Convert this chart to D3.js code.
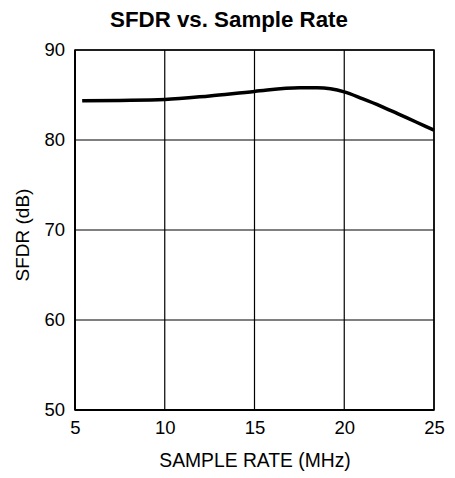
<!DOCTYPE html>
<html><head><meta charset="utf-8">
<script src="https://cdn.jsdelivr.net/npm/d3@7"></script>
<style>body{margin:0;background:#fff}svg{display:block}text{font-family:"Liberation Sans",Arial,sans-serif;fill:#000}</style>
</head><body><svg id="c" width="455" height="478"></svg>
<script>
const sampleRate = [5.4, 7.5, 10, 12.5, 15, 17.5, 18.5, 20, 21, 22, 23, 24, 25];
const sfdr = [84.35, 84.4, 84.5, 84.9, 85.4, 85.8, 85.8, 85.35, 84.6, 83.8, 82.9, 82.0, 81.1];
const xTicks = [5, 10, 15, 20, 25];
const yTicks = [50, 60, 70, 80, 90];
const title = "SFDR vs. Sample Rate";
const xTitle = "SAMPLE RATE (MHz)";
const yTitle = "SFDR (dB)";

const svg = d3.select("#c");
const L = 75, R = 434, T = 50, B = 410;
const x = d3.scaleLinear().domain([5, 25]).range([L, R]);
const y = d3.scaleLinear().domain([50, 90]).range([B, T]);

// grid
svg.append("g").selectAll("line").data(xTicks).join("line")
  .attr("x1", d => x(d)).attr("x2", d => x(d)).attr("y1", T).attr("y2", B)
  .attr("stroke", "#000").attr("stroke-width", 1.2);
svg.append("g").selectAll("line").data(yTicks).join("line")
  .attr("x1", L).attr("x2", R).attr("y1", d => y(d)).attr("y2", d => y(d))
  .attr("stroke", "#000").attr("stroke-width", 1.2);
// frame
svg.append("rect").attr("x", L).attr("y", T).attr("width", R - L).attr("height", B - T)
  .attr("fill", "none").attr("stroke", "#000").attr("stroke-width", 1.5);
svg.append("line").attr("x1", L).attr("x2", R).attr("y1", B).attr("y2", B).attr("stroke", "#000").attr("stroke-width", 2);
svg.append("line").attr("x1", L).attr("x2", L).attr("y1", T).attr("y2", B).attr("stroke", "#000").attr("stroke-width", 2);

const ff = '"Liberation Sans",Arial,sans-serif';
const xa = svg.append("g").attr("transform", `translate(0,${B})`)
  .call(d3.axisBottom(x).tickValues(xTicks).tickSize(0).tickPadding(11).tickFormat(d3.format("d")));
xa.select(".domain").remove();
xa.selectAll("text").style("font-size", "18.5px").style("font-family", ff).attr("fill", "#000");
const ya = svg.append("g").attr("transform", `translate(${L},0)`)
  .call(d3.axisLeft(y).tickValues(yTicks).tickSize(0).tickPadding(10).tickFormat(d3.format("d")));
ya.select(".domain").remove();
ya.selectAll("text").style("font-size", "18.5px").style("font-family", ff).attr("fill", "#000");

// curve
const line = d3.line().x((d, i) => x(sampleRate[i])).y(d => y(d)).curve(d3.curveMonotoneX);
svg.append("path").attr("d", line(sfdr)).attr("fill", "none").attr("stroke", "#000").attr("stroke-width", 3.5);

svg.append("text").attr("x", 229).attr("y", 27).attr("text-anchor", "middle")
  .style("font-size", "22.3px").style("font-weight", "bold").text(title);
svg.append("text").attr("x", 255).attr("y", 467).attr("text-anchor", "middle")
  .style("font-size", "19.3px").text(xTitle);
svg.append("text").attr("transform", `translate(29,235) rotate(-90)`).attr("text-anchor", "middle")
  .style("font-size", "19px").text(yTitle);
</script></body></html>
